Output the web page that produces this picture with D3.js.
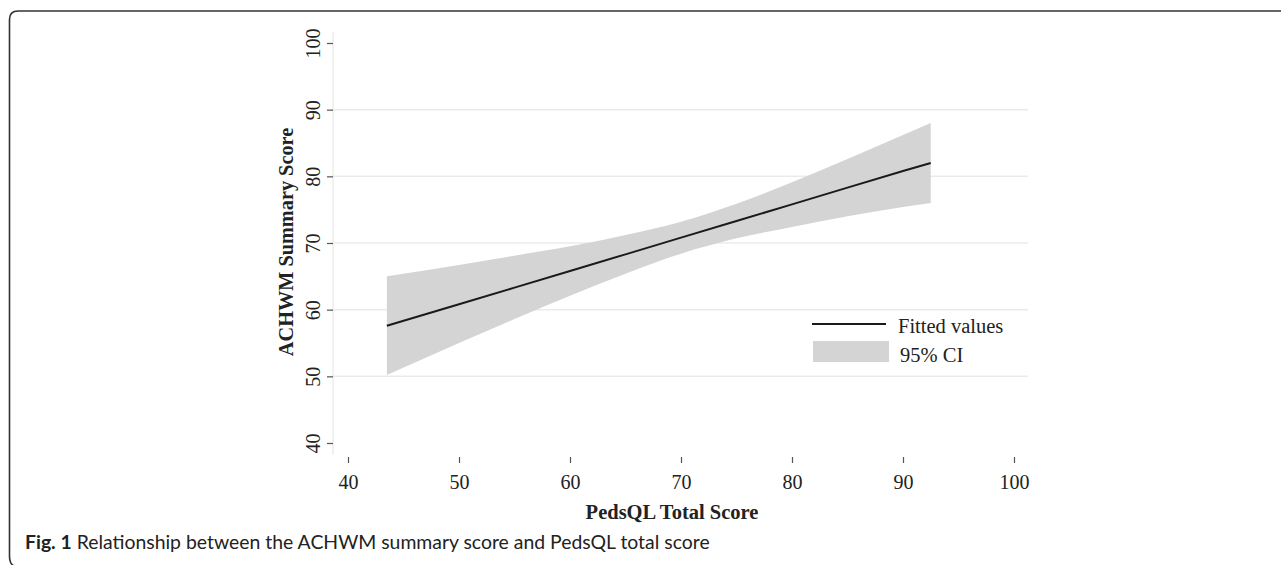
<!DOCTYPE html>
<html>
<head>
<meta charset="utf-8">
<script src="https://cdn.jsdelivr.net/npm/d3@7"></script>
<style>
  body { margin: 0; background: #fff; }
  svg { display: block; }
  .tick text { font-family: "Liberation Serif", "Times New Roman", serif; font-size: 20px; fill: #222; }
  .tick line { stroke: #555; stroke-width: 1.2; }
</style>
</head>
<body>
<svg id="chart" width="1281" height="565"></svg>
<script>
// Values
const pedsX   = [43.5, 50, 55, 60, 65, 70, 75, 80, 85, 90, 92.5];
const fitted  = [57.6, 60.8, 63.3, 65.8, 68.3, 70.8, 73.3, 75.8, 78.3, 80.8, 82.0];
const ciLower = [50.2, 55.0, 58.6, 62.1, 65.4, 68.4, 70.7, 72.4, 74.0, 75.4, 76.0];
const ciUpper = [65.0, 66.7, 68.1, 69.5, 71.2, 73.2, 75.9, 79.1, 82.6, 86.2, 88.0];
const xTicks  = [40, 50, 60, 70, 80, 90, 100];
const yTicks  = [40, 50, 60, 70, 80, 90, 100];
const gridY   = [50, 60, 70, 80, 90];

const svg = d3.select('#chart');

const x = d3.scaleLinear().domain([40, 100]).range([348, 1014]);
const y = d3.scaleLinear().domain([40, 100]).range([443, 43]);

const rows = pedsX.map((v, i) => ({ x: v, fit: fitted[i], lo: ciLower[i], hi: ciUpper[i] }));

// outer frame (rounded top-left / bottom-left)
svg.append('path')
    .attr('d', 'M1281,11 L18,11 Q9.5,11 9.5,19.5 L9.5,556 Q9.5,564 14,566')
    .attr('fill', 'none')
    .attr('stroke', '#333')
    .attr('stroke-width', 1.6);

// gridlines
svg.append('g').selectAll('line')
    .data(gridY)
    .enter()
    .append('line')
    .attr('x1', 333).attr('x2', 1028)
    .attr('y1', d => y(d)).attr('y2', d => y(d))
    .attr('stroke', '#ebebeb')
    .attr('stroke-width', 1.5);

// faint y axis line
svg.append('line')
    .attr('x1', 333).attr('x2', 333)
    .attr('y1', 32).attr('y2', 455)
    .attr('stroke', '#e8e8e8')
    .attr('stroke-width', 1.2);

// confidence band
const area = d3.area()
    .x(d => x(d.x))
    .y0(d => y(d.lo))
    .y1(d => y(d.hi))
    .curve(d3.curveMonotoneX);

svg.append('path')
    .datum(rows)
    .attr('d', area)
    .attr('fill', '#d4d4d4');

// fitted line
const line = d3.line()
    .x(d => x(d.x))
    .y(d => y(d.fit));

svg.append('path')
    .datum(rows)
    .attr('d', line)
    .attr('fill', 'none')
    .attr('stroke', '#1a1a1a')
    .attr('stroke-width', 2);

// y axis
const yAxis = svg.append('g')
    .attr('transform', 'translate(333,0)')
    .call(d3.axisLeft(y).tickValues(yTicks).tickSize(6).tickFormat(d3.format('d')));
yAxis.select('.domain').remove();
yAxis.selectAll('.tick text')
    .attr('transform', 'rotate(-90)')
    .attr('x', 0)
    .attr('y', -13)
    .attr('dy', 0)
    .attr('text-anchor', 'middle');

// x axis
const xAxis = svg.append('g')
    .attr('transform', 'translate(0,457)')
    .call(d3.axisBottom(x).tickValues(xTicks).tickSize(6).tickFormat(d3.format('d')));
xAxis.select('.domain').remove();
xAxis.selectAll('.tick text')
    .attr('y', 32)
    .attr('dy', 0);

// axis titles
svg.append('text')
    .attr('x', 672).attr('y', 519)
    .attr('text-anchor', 'middle')
    .style('font-family', '"Liberation Serif", "Times New Roman", serif')
    .style('font-weight', 'bold')
    .style('font-size', '20.5px')
    .attr('fill', '#222')
    .text('PedsQL Total Score');

svg.append('text')
    .attr('transform', 'translate(293,242) rotate(-90)')
    .attr('text-anchor', 'middle')
    .style('font-family', '"Liberation Serif", "Times New Roman", serif')
    .style('font-weight', 'bold')
    .style('font-size', '20.3px')
    .attr('fill', '#222')
    .text('ACHWM Summary Score');

// legend
const legend = svg.append('g')
    .style('font-family', '"Liberation Serif", "Times New Roman", serif')
    .style('font-size', '20.5px')
    .attr('fill', '#222');
legend.append('line')
    .attr('x1', 812).attr('x2', 886)
    .attr('y1', 324).attr('y2', 324)
    .attr('stroke', '#1a1a1a').attr('stroke-width', 2);
legend.append('text').attr('x', 898).attr('y', 333).text('Fitted values');
legend.append('rect')
    .attr('x', 813).attr('y', 341)
    .attr('width', 76).attr('height', 21)
    .attr('fill', '#d4d4d4');
legend.append('text').attr('x', 900).attr('y', 362).text('95% CI');

// caption
const cap = svg.append('text')
    .attr('x', 25).attr('y', 549)
    .style('font-family', 'Lato, "Liberation Sans", sans-serif')
    .style('font-size', '19.4px')
    .attr('fill', '#222');
cap.append('tspan').style('font-weight', 'bold').text('Fig. 1');
cap.append('tspan').text(' Relationship between the ACHWM summary score and PedsQL total score');
</script>
</body>
</html>
